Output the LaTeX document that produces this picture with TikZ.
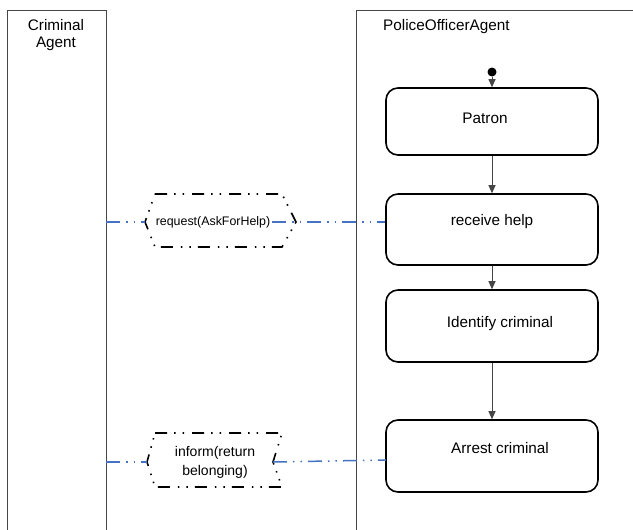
\documentclass[tikz,border=0pt]{standalone}
\usepackage{fontspec}
\setmainfont{Liberation Sans}
\usetikzlibrary{arrows.meta}
\definecolor{lanegray}{RGB}{70,70,70}
\definecolor{msgblue}{RGB}{68,114,196}
\begin{document}
\begin{tikzpicture}[x=1pt,y=-1pt,
  lane/.style={draw=lanegray,line width=0.9pt},
  state/.style={draw=black,line width=1.6pt,rounded corners=12pt,
    minimum width=212pt,inner sep=0pt},
  lbl/.style={font=\fontsize{15.3}{17}\selectfont,inner sep=0pt,align=center},
  flow/.style={draw=lanegray,line width=1pt,-{Triangle[length=8pt,width=7pt]}},
  signal/.style={draw=black,line width=1.6pt,
    dash pattern=on 12pt off 7pt on 1.5pt off 7pt on 1.5pt off 8pt},
  msg/.style={draw=msgblue,line width=1.5pt,
    dash pattern=on 14pt off 6pt on 1.5pt off 6pt on 1.5pt off 6pt}]
\useasboundingbox (0,0) rectangle (633,530);
\fill[white] (0,0) rectangle (633,530);

% swimlanes
\draw[lane] (7,530) -- (7,10) -- (106,10) -- (106,530);
\draw[lane] (356,530) -- (356,10) -- (633,10);
\node[lbl] (crimtitle) at (56,35.5) {Criminal\\Agent};
\node[lbl,anchor=west] (polititle) at (383,27) {PoliceOfficerAgent};

% states of the police officer
\node[circle,fill=black,minimum size=9pt,inner sep=0pt] (init) at (492,72) {};
\node[state,minimum height=67pt] (patron) at (492,121.5) {};
\node[state,minimum height=71pt] (recv) at (492,229.5) {};
\node[state,minimum height=72pt] (ident) at (492,326) {};
\node[state,minimum height=72pt] (arrest) at (492,456) {};
\node[lbl] (patrontxt) at (485,118) {Patron};
\node[lbl] (recvtxt) at (492,222) {receive help};
\node[lbl] (identtxt) at (500,324) {Identify criminal};
\node[lbl] (arresttxt) at (500,448) {Arrest criminal};

\draw[flow] (init) -- (patron.north);
\draw[flow] (patron.south) -- (recv.north);
\draw[flow] (recv.south) -- (ident.north);
\draw[flow] (ident.south) -- (arrest.north);

% signals
\draw[signal] (155,194) -- (282,194) -- (296,222) -- (282,247) -- (155,247) -- (145,222) -- cycle;
\node[inner sep=0pt,font=\fontsize{12.4}{14}\selectfont] (reqtxt) at (213,222) {request(AskForHelp)};
\draw[signal] (155,433) -- (282,433) -- (273,462) -- (282,487) -- (155,487) -- (147,462) -- cycle;
\node[lbl,font=\fontsize{14}{19}\selectfont] (inftxt) at (215,462) {inform(return\\belonging)};

\coordinate (reqL) at (145,222);
\coordinate (reqR) at (272,222);
\coordinate (infL) at (147,462);
\coordinate (infR) at (273,462);
\coordinate (crimA) at (106,222);
\coordinate (crimB) at (106,462);
\coordinate (recvW) at (recv.west |- reqR);
\coordinate (arrestW) at (386,460);

\draw[msg] (crimA) -- (reqL);
\draw[msg] (reqR) -- (recvW);
\draw[msg] (crimB) -- (infL);
\draw[msg] (infR) -- (arrestW);
\end{tikzpicture}
\end{document}
